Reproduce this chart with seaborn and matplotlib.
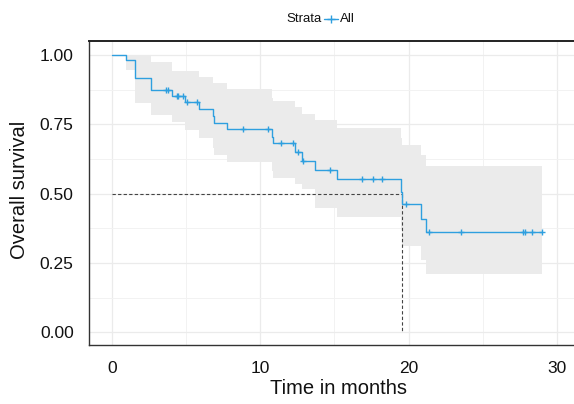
import numpy as np
import pandas as pd
import matplotlib
matplotlib.use("Agg")
import matplotlib.pyplot as plt
import seaborn as sns
from matplotlib.lines import Line2D

# ---- data ----
event_times = [0.96, 1.57, 2.65, 4.04, 4.94, 5.88, 6.84, 6.92, 7.78, 10.77, 10.88,
               12.34, 12.79, 13.69, 15.15, 19.50, 19.57, 20.83, 21.14]
surv_after = [0.982, 0.916, 0.874, 0.852, 0.831, 0.805, 0.780, 0.756, 0.732, 0.706, 0.682,
              0.652, 0.619, 0.587, 0.552, 0.507, 0.462, 0.409, 0.360]
upper_ci = [1.000, 1.000, 0.974, 0.944, 0.944, 0.922, 0.900, 0.898, 0.876, 0.845, 0.833,
            0.813, 0.789, 0.764, 0.738, 0.700, 0.674, 0.638, 0.601]
lower_ci = [0.945, 0.826, 0.784, 0.757, 0.730, 0.700, 0.665, 0.640, 0.615, 0.580, 0.555,
            0.535, 0.515, 0.450, 0.414, 0.370, 0.312, 0.260, 0.211]
censor_times = [3.66, 3.77, 4.38, 4.46, 4.82, 5.09, 5.76, 8.82, 10.55, 11.38, 12.23,
                12.57, 12.90, 14.70, 16.88, 17.58, 18.18, 19.82, 21.39, 23.52,
                27.72, 27.81, 28.28, 29.00]
last_time = 29.0
median_time = 19.57
median_surv = 0.5
x_ticks = [0, 10, 20, 30]
x_minor = [5, 15, 25]
y_ticks = [0.0, 0.25, 0.5, 0.75, 1.0]
y_minor = [0.125, 0.375, 0.625, 0.875]
y_tick_labels = ["0.00", "0.25", "0.50", "0.75", "1.00"]
strata_title = "Strata"
strata_label = "All"

blue = "#2E9FDF"

sns.set_style("white")
plt.rcParams["font.family"] = ["Liberation Sans", "DejaVu Sans"]
plt.rcParams["lines.scale_dashes"] = False

t_steps = [0.0] + event_times + [last_time]
s_steps = [1.0] + surv_after + [surv_after[-1]]
up = [1.0] + upper_ci + [upper_ci[-1]]
lo = [1.0] + lower_ci + [lower_ci[-1]]
curve = pd.DataFrame({"time": t_steps, "surv": s_steps})

s_lookup = np.array([1.0] + surv_after)
idx = np.searchsorted(np.array(event_times), np.array(censor_times), side="right")
censors = pd.DataFrame({"time": censor_times, "surv": s_lookup[idx]})

W, H = 574, 404
fig = plt.figure(figsize=(W / 100, H / 100), dpi=100)
ax_left, ax_right, ax_top, ax_bottom = 89, 587, 41, 345
ax = fig.add_axes([ax_left / W, (H - ax_bottom) / H,
                   (ax_right - ax_left) / W, (ax_bottom - ax_top) / H])

ax.fill_between(t_steps, lo, up, step="post", color="#EBEBEB", lw=0, zorder=1)
sns.lineplot(data=curve, x="time", y="surv", drawstyle="steps-post", color=blue,
             lw=1.0, estimator=None, sort=False, ax=ax, zorder=3)
sns.scatterplot(data=censors, x="time", y="surv", marker="+", s=22, color=blue,
                linewidth=1.0, ax=ax, zorder=4)

ax.plot([0, median_time], [median_surv, median_surv], color="#444444", lw=0.8,
        linestyle=(0, (2.4, 1.6)), zorder=2)
ax.plot([median_time, median_time], [median_surv, 0], color="#444444", lw=0.8,
        linestyle=(0, (2.4, 1.6)), zorder=2)

# scales
px_per_month = 14.85
x0 = 111.7
ax.set_xlim((ax_left - x0) / px_per_month, (ax_right - x0) / px_per_month)
ax.set_ylim(-0.0458, 1.0505)
ax.set_xticks(x_ticks)
ax.set_xticks(x_minor, minor=True)
ax.set_yticks(y_ticks)
ax.set_yticklabels(y_tick_labels)
ax.set_yticks(y_minor, minor=True)

ax.grid(True, which="major", color="#EBEBEB", lw=0.9, zorder=0)
ax.grid(True, which="minor", color="#F2F2F2", lw=0.7, zorder=0)
ax.set_axisbelow(True)

for side in ["left", "bottom"]:
    ax.spines[side].set_color("#333333")
    ax.spines[side].set_linewidth(1.0)
ax.spines["top"].set_color("#222222")
ax.spines["top"].set_linewidth(1.4)
ax.spines["right"].set_visible(False)

ax.tick_params(axis="x", which="major", pad=6.5)
ax.tick_params(axis="y", which="major", pad=6)
ax.tick_params(axis="both", which="major", length=5, width=0.9, color="#333333",
               labelsize=12.5, labelcolor="#111111", direction="out")
ax.tick_params(axis="both", which="minor", length=0)

ax.set_xlabel("Time in months", fontsize=14.5, color="#111111")
ax.set_ylabel("Overall survival", fontsize=14.5, color="#111111")
ax.xaxis.set_label_coords(0.5, (ax_bottom - 388) / (ax_bottom - ax_top))
ax.xaxis.label.set_va("center")
ax.yaxis.set_label_coords((20 - ax_left) / (ax_right - ax_left), 0.51)
ax.yaxis.label.set_va("center")

# legend on top
ly = 1 - 19 / H
fig.text(322 / W, ly, strata_title, ha="right", va="center", fontsize=9.5, color="#111111")
fig.add_artist(Line2D([324 / W, 338 / W], [ly, ly], transform=fig.transFigure,
                      color=blue, lw=1.0))
fig.add_artist(Line2D([331 / W], [ly], transform=fig.transFigure, color=blue,
                      marker="+", markersize=5.5, mew=1.0, lw=0))
fig.text(340 / W, ly, strata_label, ha="left", va="center", fontsize=9.5, color="#111111")

fig.savefig("out.png", dpi=100)
